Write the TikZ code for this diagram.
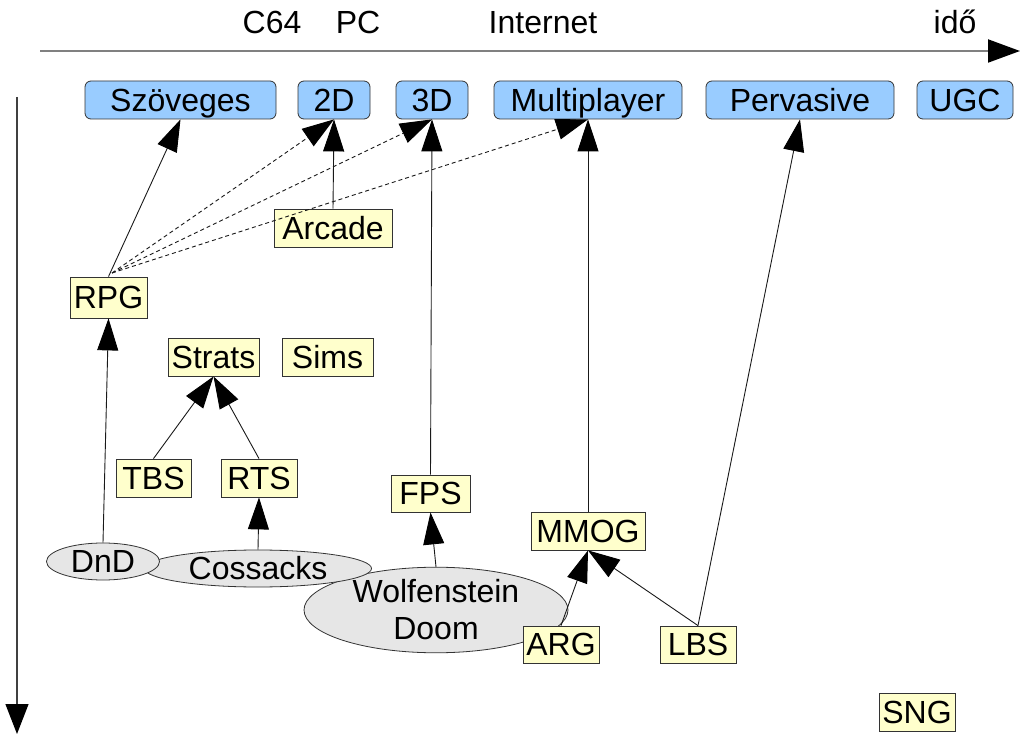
\documentclass[tikz,border=0pt]{standalone}
\usepackage{fontspec}
\setmainfont{Liberation Sans}
\usetikzlibrary{arrows.meta,shapes.geometric}
\definecolor{boxblue}{HTML}{99CCFF}
\definecolor{boxyel}{HTML}{FFFFCC}
\definecolor{ellgray}{HTML}{E6E6E6}
\definecolor{edgegray}{HTML}{333333}
\begin{document}
\begin{tikzpicture}[x=1pt,y=-1pt,
  every node/.style={font=\fontsize{32}{37}\selectfont, inner sep=0pt},
  capc/.style={text height=22.9pt, text depth=0pt},
  cat/.style={capc, draw=edgegray, fill=boxblue, rounded corners=6pt, minimum height=38pt, line width=0.8pt},
  genre/.style={capc, draw=edgegray, fill=boxyel, minimum height=38pt, line width=0.8pt},
  ell/.style={ellipse, draw=edgegray, fill=ellgray, line width=0.8pt},
  game/.style={ell, capc},
  era/.style={capc},
  arr/.style={draw=black!90, line width=0.9pt, -{Triangle[length=32pt,width=21pt,color=black]}},
  darr/.style={arr, dash pattern=on 4pt off 3pt}]
\useasboundingbox (0,0) rectangle (1021,735);

% axes
\coordinate (tx0) at (40,51);
\coordinate (tx1) at (1020,51);
\coordinate (ty0) at (17,97);
\coordinate (ty1) at (17,734);
\draw[draw=gray, line width=2pt, -{Triangle[length=32pt,width=23pt,color=black]}] (tx0) -- (tx1);
\draw[draw=black!75, line width=1.2pt, -{Triangle[length=30pt,width=23pt,color=black]}] (ty0) -- (ty1);

% era labels
\node[era] (c64) at (272,22) {C64};
\node[era] (pc) at (358,22) {PC};
\node[era] (inet) at (543,22) {Internet};
\node[era] (ido) at (955,22) {idő};

% categories
\node[cat, minimum width=191pt] (szov) at (180.5,100) {Szöveges};
\node[cat, minimum width=72pt] (d2) at (334,100) {2D};
\node[cat, minimum width=72pt] (d3) at (432,100) {3D};
\node[cat, minimum width=188pt] (mp) at (588,100) {Multiplayer};
\node[cat, minimum width=188pt] (perv) at (800,100) {Pervasive};
\node[cat, minimum width=96pt] (ugc) at (965,100) {UGC};

% genres
\node[genre, minimum width=118pt] (arcade) at (333,228) {Arcade};
\node[genre, minimum width=77pt, minimum height=41pt] (rpg) at (108.5,297.5) {RPG};
\node[genre, minimum width=91pt] (strats) at (213.5,357) {Strats};
\node[genre, minimum width=91pt] (sims) at (327.5,357) {Sims};
\node[genre, minimum width=75pt] (tbs) at (153.5,478) {TBS};
\node[genre, minimum width=76pt] (rts) at (259,478) {RTS};
\node[genre, minimum width=79pt, minimum height=37pt] (fps) at (430.5,493.5) {FPS};
\node[genre, minimum width=114pt] (mmog) at (588,531) {MMOG};

% games
\node[ell, minimum width=264pt, minimum height=76pt, align=center] (wolf) at (436,610) {Wolfenstein\\Doom};
\node[game, minimum width=227pt, minimum height=37pt] (coss) at (258,568.5) {Cossacks};
\node[game, minimum width=113pt, minimum height=37pt] (dnd) at (103,561.5) {DnD};

\node[genre, minimum width=76pt, minimum height=37pt] (arg) at (561,644.5) {ARG};
\node[genre, minimum width=76pt, minimum height=37pt] (lbs) at (698,644.5) {LBS};
\node[genre, minimum width=76pt] (sng) at (917,712) {SNG};

% connectors
\coordinate (rpgd) at (112,273);
\draw[arr] (rpg.north) -- (szov.south);
\draw[darr] (rpgd) -- (d2.south);
\draw[darr] (rpgd) -- (d3.south);
\draw[darr] (rpgd) -- (mp.south);
\draw[arr] (arcade.north) -- (d2.south);
\draw[arr] (dnd.north) -- (rpg.south);
\draw[arr] (tbs.north) -- (strats.south);
\draw[arr] (rts.north) -- (strats.south);
\draw[arr] (coss.north) -- (rts.south);
\draw[arr] (wolf.north) -- (fps.south);
\draw[arr] (fps.north) -- (d3.south);
\draw[arr] (mmog.north) -- (mp.south);
\draw[arr] (arg.north) -- (mmog.south);
\draw[arr] (lbs.north) -- (mmog.south);
\draw[arr] (lbs.north) -- (perv.south);
\end{tikzpicture}
\end{document}
